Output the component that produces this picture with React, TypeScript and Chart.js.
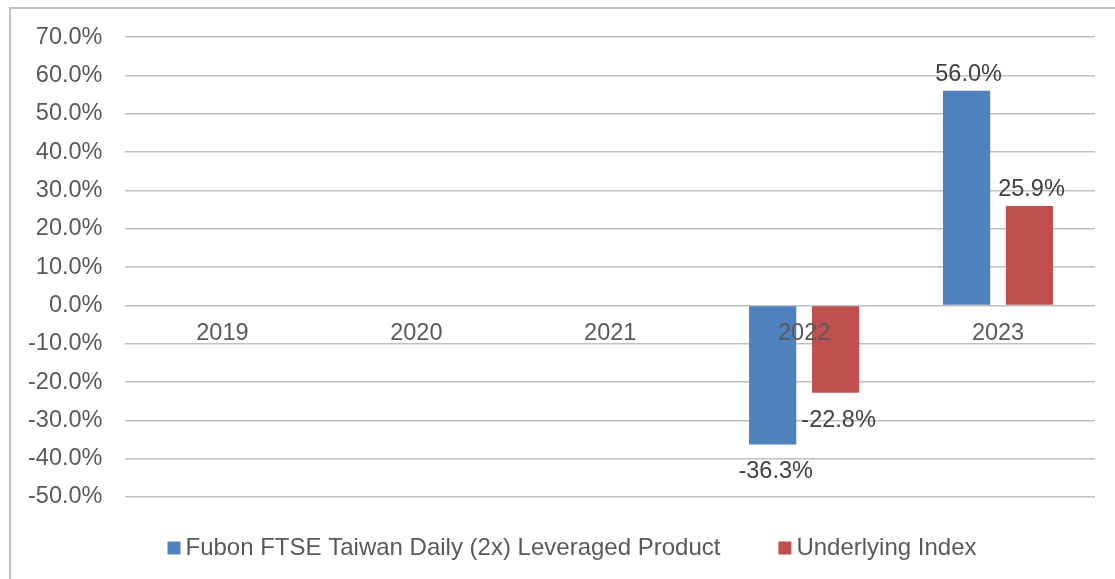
import React, { useEffect, useRef } from "react";
import { Chart, registerables } from "chart.js";

Chart.register(...registerables);

const categories = ["2019", "2020", "2021", "2022", "2023"];
const productLabel = "Fubon FTSE Taiwan Daily (2x) Leveraged Product";
const indexLabel = "Underlying Index";
const productValues: (number | null)[] = [0, null, null, -36.3, 56.0];
const indexValues: (number | null)[] = [null, null, null, -22.8, 25.9];
const yMin = -50;
const yMax = 70;
const yStep = 10;

const FONT = "'Liberation Sans', Arial, sans-serif";
const AXIS_COLOR = "#595959";
const LABEL_COLOR = "#404040";

const dataLabelPlugin = {
  id: "dataLabels",
  afterDatasetsDraw(chart: any) {
    const ctx = chart.ctx;
    ctx.save();
    ctx.font = `23.5px ${FONT}`;
    ctx.fillStyle = LABEL_COLOR;
    ctx.textAlign = "center";
    ctx.textBaseline = "alphabetic";
    chart.data.datasets.forEach((ds: any, di: number) => {
      const meta = chart.getDatasetMeta(di);
      meta.data.forEach((el: any, i: number) => {
        const v = ds.data[i];
        if (v === null || v === undefined || v === 0) return;
        const text = v.toFixed(1) + "%";
        if (v >= 0) {
          ctx.fillText(text, el.x + 2, el.y - 10);
        } else {
          ctx.fillText(text, el.x + 3, el.y + 34);
        }
      });
    });
    ctx.restore();
  },
};

const legendPlugin = {
  id: "customLegend",
  afterDraw(chart: any) {
    const ctx = chart.ctx;
    ctx.save();
    ctx.font = `24px ${FONT}`;
    const box = 13;
    const boxGap = 5;
    const itemGap = 58;
    const items = chart.data.datasets.map((ds: any) => ({
      text: ds.label,
      color: ds.backgroundColor,
      w: ctx.measureText(ds.label).width,
    }));
    let total = 0;
    items.forEach((it: any, i: number) => {
      total += box + boxGap + it.w + (i > 0 ? itemGap : 0);
    });
    const cy = 548;
    let x = 572 - total / 2;
    items.forEach((it: any) => {
      ctx.fillStyle = it.color;
      ctx.fillRect(x, cy - box / 2, box, box);
      x += box + boxGap;
      ctx.fillStyle = AXIS_COLOR;
      ctx.textAlign = "left";
      ctx.textBaseline = "middle";
      ctx.fillText(it.text, x, cy);
      x += it.w + itemGap;
    });
    ctx.restore();
  },
};

export default function App() {
  const canvasRef = useRef<HTMLCanvasElement | null>(null);

  useEffect(() => {
    if (!canvasRef.current) return;
    const chart = new Chart(canvasRef.current, {
      type: "bar",
      data: {
        labels: categories,
        datasets: [
          {
            label: productLabel,
            data: productValues,
            backgroundColor: "#4f81bd",
            categoryPercentage: 0.649,
            barPercentage: 0.75,
          },
          {
            label: indexLabel,
            data: indexValues,
            backgroundColor: "#c0504d",
            categoryPercentage: 0.649,
            barPercentage: 0.75,
          },
        ],
      },
      options: {
        responsive: false,
        animation: false,
        layout: { padding: { left: 5, right: 20, top: 37, bottom: 82 } },
        plugins: {
          legend: { display: false },
          tooltip: { enabled: false },
        },
        scales: {
          x: {
            type: "category",
            position: { y: 0 },
            grid: { display: false, drawTicks: false },
            border: { display: false },
            ticks: {
              z: 1,
              padding: 14,
              color: AXIS_COLOR,
              font: { size: 23.5, family: FONT },
              maxRotation: 0,
            },
          },
          y: {
            min: yMin,
            max: yMax,
            grid: { color: "#c0c0c0", lineWidth: 1.5, drawTicks: false },
            border: { display: false },
            ticks: {
              stepSize: yStep,
              padding: 23,
              color: AXIS_COLOR,
              font: { size: 23.5, family: FONT },
              callback: (v: any) => Number(v).toFixed(1) + "%",
            },
          },
        },
      },
      plugins: [dataLabelPlugin, legendPlugin],
    });
    return () => chart.destroy();
  }, []);

  return (
    <div
      style={{
        position: "absolute",
        left: 0,
        top: 0,
        width: 1115,
        height: 579,
        overflow: "hidden",
        background: "#ffffff",
      }}
    >
      <div
        style={{
          position: "absolute",
          left: 9,
          top: 7,
          width: 1200,
          height: 700,
          border: "2px solid #bfbfbf",
          boxSizing: "border-box",
        }}
      />
      <canvas
        ref={canvasRef}
        width={1115}
        height={579}
        style={{ position: "absolute", left: 0, top: 0 }}
      />
    </div>
  );
}
